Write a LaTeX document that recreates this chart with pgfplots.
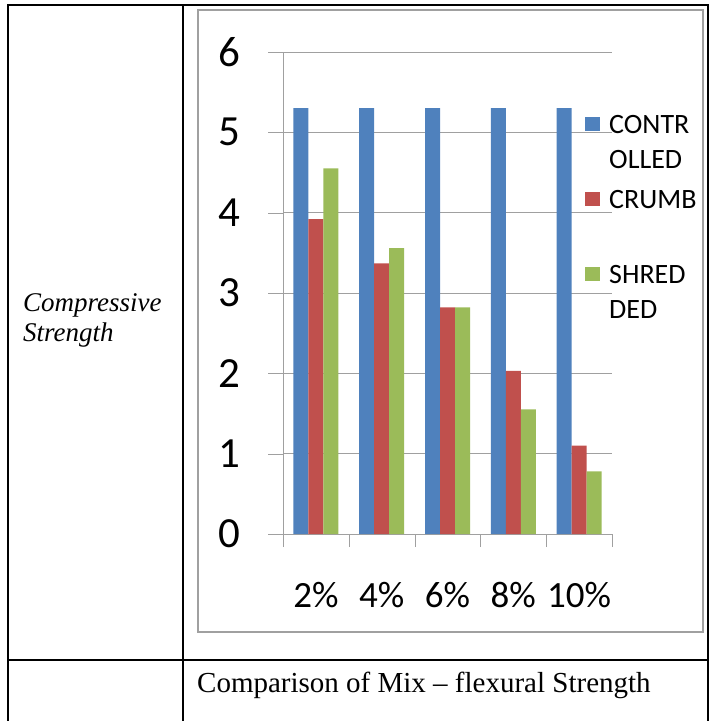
\documentclass[border=0pt]{standalone}
\usepackage{pgfplots}
\pgfplotsset{compat=1.18}
\usepackage{fontspec}
\setmainfont{Carlito}
\newfontfamily\cambria{Liberation Serif}
\definecolor{cblue}{HTML}{4F81BD}
\definecolor{cred}{HTML}{C0504D}
\definecolor{cgreen}{HTML}{9BBB59}
\definecolor{lgray}{HTML}{A0A0A0}
% legend entry: square on the first line
\newcommand\lent[1]{\begin{tabular}[t]{@{}l@{}}#1\end{tabular}}
\begin{document}
\begin{tikzpicture}[x=1pt,y=1pt]
\useasboundingbox (0,0) rectangle (712,721);
% table lines
\draw[line width=2pt] (7,716) -- (709,716);
\draw[line width=2pt] (8,716) -- (8,0);
\draw[line width=2pt] (708,716) -- (708,0);
\draw[line width=2pt] (183,716) -- (183,0);
\draw[line width=2pt] (8,61) -- (708,61);
% chart frame
\draw[lgray, line width=1.5pt] (198,711) rectangle (703,89);
\node[anchor=base west, inner sep=0pt, font=\cambria\itshape\fontsize{27}{30}\selectfont] at (23,409) {Compressive};
\node[anchor=base west, inner sep=0pt, font=\cambria\itshape\fontsize{27}{30}\selectfont] at (23,379) {Strength};
\node[anchor=base west, inner sep=0pt, font=\cambria\fontsize{29}{30}\selectfont] at (197,28) {Comparison of Mix – flexural Strength};
\begin{axis}[
  at={(283pt,187pt)}, anchor=south west,
  scale only axis, width=329pt, height=482pt,
  xmin=-0.5, xmax=4.5, ymin=0, ymax=6,
  ybar=0pt, bar width=15pt,
  axis x line=bottom, axis y line=left,
  axis line style={lgray, -},
  ymajorgrids, grid style={lgray},
  ytick={0,1,...,6},
  xtick={0,1,2,3,4},
  xticklabels={2\%,4\%,6\%,8\%,10\%},
  minor xtick={-0.5,0.5,1.5,2.5,3.5,4.5},
  tick align=outside,
  major tick length=15pt, minor tick length=13pt,
  major x tick style={draw=none},
  minor x tick style={lgray},
  y tick style={lgray},
  /pgf/number format/assume math mode=true,
  yticklabel style={font=\fontsize{43}{43}\selectfont, inner sep=0pt, xshift=-28pt},
  xticklabel style={font=\fontsize{37}{37}\selectfont, anchor=base, inner sep=0pt, yshift=-58pt},
  legend image code/.code={\fill[#1] (0pt,-9pt) rectangle (15pt,5pt);},
  legend style={at={(axis description cs:0.918,0.883)}, anchor=north west,
    draw=none, fill=none, inner sep=0pt, row sep=49pt, column sep=9pt,
    nodes={inner sep=0pt},
    font=\fontsize{28}{35}\selectfont},
  legend cell align=left,
]
\addplot[fill=cblue, draw=none] coordinates {(0,5.3) (1,5.3) (2,5.3) (3,5.3) (4,5.3)};
\addlegendentry{\lent{CONTR\\OLLED}}
\addplot[fill=cred, draw=none] coordinates {(0,3.92) (1,3.37) (2,2.82) (3,2.03) (4,1.10)};
\addlegendentry{\lent{CRUMB}}
\addplot[fill=cgreen, draw=none] coordinates {(0,4.55) (1,3.56) (2,2.82) (3,1.55) (4,0.78)};
\addlegendentry{\lent{SHRED\\DED}}
\end{axis}
\end{tikzpicture}
\end{document}
